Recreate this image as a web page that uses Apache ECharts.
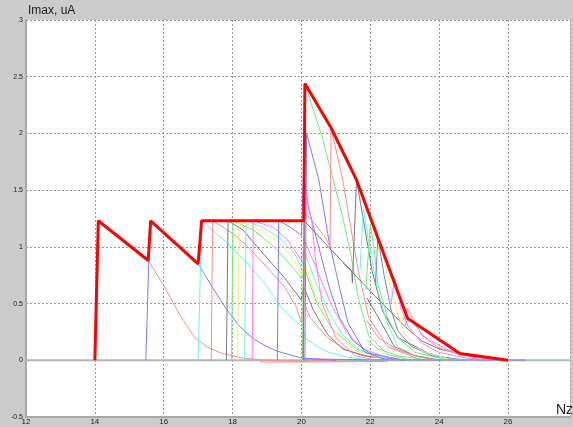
<!DOCTYPE html>
<html>
<head>
<meta charset="utf-8">
<script src="https://cdn.jsdelivr.net/npm/echarts@6/dist/echarts.min.js"></script>
<style>
  html, body { margin: 0; padding: 0; background: #cccccc; }
  #chart { width: 573px; height: 427px; }
</style>
</head>
<body>
<div id="chart"></div>
<script>
// thick red envelope
var envelope = [[14.0,0],[14.1,1.23],[15.55,0.88],[15.62,1.23],[17.0,0.85],[17.1,1.23],[20.07,1.23],[20.1,2.44],[20.86,2.05],[21.6,1.59],[23.08,0.37],[24.6,0.06],[26.0,0]];

// thin curves, one per run
var c1 = [[14.0,0],[14.1,1.23],[15.55,0.88],[16.0,0.66],[16.45,0.41],[16.9,0.2],[17.3,0.11],[17.7,0.06],[18.3,0.02],[19.0,0],[20.0,-0.01],[21,0]];
var c2 = [[15.48,0],[15.6,1.23],[17.0,0.85],[17.4,0.65],[17.8,0.46],[18.2,0.3],[18.6,0.19],[19.0,0.12],[19.3,0.08],[20.0,0.02],[21.0,0]];
var c3 = [[17.0,0],[17.1,1.23],[17.4,1.15],[17.85,1.03],[18.45,0.85],[19.0,0.65],[19.4,0.47],[19.8,0.35],[20.05,0.29],[20.1,0.2],[20.4,0.13],[20.8,0.07],[21.3,0.03],[22,0]];
var c4 = [[17.38,0],[17.42,1.23],[18.0,1.12],[18.45,1.0],[19.0,0.82],[19.5,0.65],[19.85,0.47],[20.0,0.33],[20.06,0.52],[20.25,0.38],[20.75,0.2],[21.3,0.09],[22,0.03],[23,0]];
var c5 = [[17.82,0],[17.87,1.23],[18.3,1.15],[18.8,0.97],[19.5,0.73],[20.0,0.53],[20.06,0.65],[20.35,0.44],[20.75,0.23],[21.2,0.1],[21.8,0.04],[23,0]];
var c6 = [[17.97,0],[18.01,1.23],[18.6,1.15],[19.2,1.0],[19.75,0.82],[20.0,0.72],[20.1,0.8],[20.45,0.5],[20.93,0.26],[21.6,0.1],[22.5,0]];
var c7 = [[18.15,0],[18.19,1.23],[18.8,1.15],[19.4,1.03],[19.8,0.88],[20.0,0.76],[20.1,0.86],[20.35,0.62],[20.7,0.38],[21.1,0.2],[21.6,0.08],[22.5,0]];
var c8 = [[18.35,0],[18.39,1.23],[18.9,1.17],[19.4,1.07],[19.8,0.94],[20.0,0.82],[20.1,0.95],[20.4,0.7],[20.8,0.42],[21.2,0.22],[21.7,0.09],[22.6,0]];
var c9 = [[18.57,0],[18.6,1.23],[19.2,1.17],[19.6,1.06],[20.0,0.88],[20.1,1.05],[20.45,0.8],[20.85,0.5],[21.3,0.25],[21.8,0.1],[22.7,0]];
var c10 = [[19.3,0],[19.34,1.23],[19.7,1.17],[20.0,1.1],[20.06,1.65],[20.2,1.35],[20.5,1.0],[20.8,0.65],[21.1,0.38],[21.5,0.17],[22.0,0.06],[23,0]];
var c11 = [[20.03,0],[20.1,2.44],[20.6,1.97],[20.9,1.62],[21.2,1.26],[21.45,0.91],[21.65,0.55],[21.95,0.22],[22.5,0.05],[23.2,0]];
var c12 = [[20.1,0],[20.15,2.0],[20.5,1.6],[20.8,1.05],[21.1,0.65],[21.35,0.33],[21.85,0.07],[22.5,0]];
var c13 = [[20.06,0],[20.1,1.52],[20.3,1.23],[20.4,0.91],[20.6,0.5],[21.0,0.2],[21.55,0.04],[22.2,0]];
var c14 = [[20.05,0],[20.1,1.3],[20.4,1.2],[20.7,1.08],[20.83,1.0],[20.86,2.05],[21.2,1.59],[21.4,1.23],[21.65,0.79],[21.95,0.38],[22.5,0.12],[23.5,0]];
var c15 = [[20.05,0],[20.08,1.23],[21.0,0.93],[22.0,0.61],[23.0,0.3],[23.5,0.17],[24.0,0.1],[25.0,0.03],[26.0,0]];
var c16 = [[21.2,0.86],[21.46,0.79],[21.48,0.68],[21.6,1.59],[21.85,1.15],[22.05,0.79],[22.35,0.44],[22.8,0.2],[23.7,0.06],[24.5,0]];
var c17 = [[21.7,0.79],[21.8,1.33],[21.95,1.05],[22.1,0.8],[22.23,0.6],[22.5,0.32],[22.8,0.12],[23.3,0.04],[24.2,0]];
var c18 = [[21.87,0.62],[22.0,1.2],[22.1,1.0],[22.23,0.66],[22.5,0.38],[22.8,0.2],[23.3,0.07],[24.3,0]];
var c19 = [[22.15,0.68],[22.22,1.08],[22.4,0.75],[22.6,0.45],[22.8,0.26],[23.2,0.12],[23.8,0.04],[24.8,0]];
var c20 = [[22.2,0.9],[22.27,1.05],[22.5,0.75],[22.75,0.45],[23.0,0.23],[23.5,0.08],[24.3,0.01],[25,0]];
var c21 = [[22.6,0.5],[22.71,0.72],[22.9,0.45],[23.1,0.3],[23.5,0.15],[24.0,0.07],[24.8,0.02],[25.5,0]];
var c22 = [[22.95,0.35],[23.08,0.46],[23.5,0.22],[24.0,0.11],[24.6,0.05],[25.2,0.02],[26,0]];
var c23 = [[23.0,0.3],[23.1,0.38],[23.6,0.2],[24.2,0.1],[24.8,0.04],[25.6,0.01],[26.5,0]];
var c24 = [[21.9,0.55],[22.23,0.38],[22.7,0.12],[23.3,0.04],[24,0]];
var c25 = [[21.9,0.35],[22.23,0.2],[22.8,0.09],[23.4,0.03],[24,0]];
var c26 = [[21.9,0.18],[22.23,0.1],[22.8,0.04],[23.5,0.01],[24.5,0]];
var c27 = [[22,0.005],[28,0.005]];
var c28 = [[20.1,0.012],[22,0.004],[26.5,0.002]];
var c29 = [[18.8,-0.015],[20,-0.015],[22.5,-0.01]];

var curves = [c1,c2,c3,c4,c5,c6,c7,c8,c9,c10,c11,c12,c13,c14,c15,c16,c17,c18,c19,c20,c21,c22,c23,c24,c25,c26,c27,c28,c29];
var curveColors = ['red','blue','cyan','red','gray','green','yellow','cyan','magenta','blue',
  'green','blue','magenta','red','gray','gray','cyan','green','blue','yellow',
  'magenta','red','magenta','gray','red','green','cyan','blue','red'];

var xTicks = [12,14,16,18,20,22,24,26];
var yTicks = [-0.5,0,0.5,1,1.5,2,2.5,3];

var palette = {
  red: '#ff8c8c', blue: '#7c7cff', cyan: '#6ff0f0', green: '#74ec74',
  yellow: '#f4f070', magenta: '#ff7cff', gray: '#7a7a7a'
};

var chart = echarts.init(document.getElementById('chart'));

var series = curves.map(function (d, i) {
  return {
    type: 'line', data: d, showSymbol: false, silent: true,
    lineStyle: { width: 1, color: palette[curveColors[i]] }
  };
});
series.push({
  type: 'line', data: envelope, showSymbol: false, silent: true, z: 5,
  lineStyle: { width: 3, color: '#ff0000' }
});

var option = {
  animation: false,
  backgroundColor: '#cccccc',
  grid: {
    left: 26, top: 20, right: 0, bottom: 10,
    show: true, backgroundColor: '#ffffff', borderWidth: 0
  },
  xAxis: {
    type: 'value', min: 12, max: 27.8, interval: 2,
    axisLine: { onZero: false, lineStyle: { color: '#a8a8a8', width: 2 } },
    axisTick: { show: false },
    axisLabel: {
      margin: 1, fontSize: 8, color: '#222', fontFamily: 'Liberation Sans',
      formatter: function (v) { return xTicks.indexOf(v) >= 0 ? String(v) : ''; }
    },
    splitLine: { lineStyle: { color: '#9a9a9a', type: [2, 2] } }
  },
  yAxis: {
    type: 'value', min: -0.5, max: 3, interval: 0.5,
    axisLine: { show: true, lineStyle: { color: '#a8a8a8', width: 2 } },
    axisTick: { show: false },
    axisLabel: {
      margin: 3, fontSize: 7, color: '#222', fontFamily: 'Liberation Sans',
      formatter: function (v) { return yTicks.indexOf(v) >= 0 ? String(v) : ''; }
    },
    splitLine: { lineStyle: { color: '#9a9a9a', type: [2, 2] } }
  },
  graphic: [
    { type: 'text', left: 28, top: 5, style: { text: 'Imax, uA', font: '12px "Liberation Sans"', fill: '#222' } },
    { type: 'text', left: 556, top: 403, style: { text: 'Nz', font: '14px "Liberation Sans"', fill: '#222' } }
  ],
  series: series.concat([{
    type: 'line', data: [[12,0],[28,0]], showSymbol: false, silent: true, z: 1,
    lineStyle: { width: 2, color: '#b4b4b4' }
  }])
};
chart.setOption(option);
</script>
</body>
</html>
